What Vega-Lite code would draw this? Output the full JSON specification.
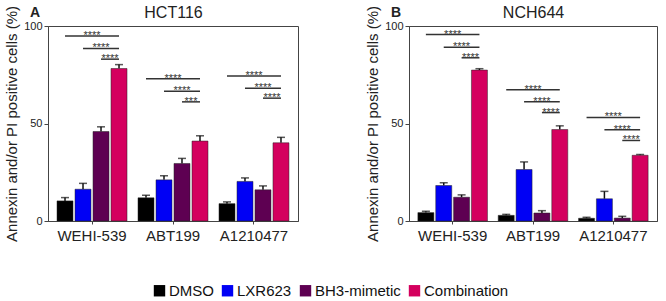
{
  "$schema": "https://vega.github.io/schema/vega-lite/v6.json",
  "background": "white",
  "padding": {"left": 4, "right": 4, "top": 3, "bottom": 4},
  "config": {
    "font": "Liberation Sans",
    "view": {"stroke": "#444", "strokeWidth": 1},
    "axis": {"domainColor": "#444", "tickColor": "#444", "labelColor": "#222", "titleColor": "#222", "grid": false},
    "title": {"font": "Liberation Sans", "color": "#222"},
    "legend": {"layout": {"bottom": {"anchor": "middle"}}},
    "concat": {"spacing": 66}
  },
  "datasets": {
    "bars": [
      {"panel": "HCT116", "group": "WEHI-539", "treatment": "DMSO", "value": 10.3, "upper": 12.0},
      {"panel": "HCT116", "group": "WEHI-539", "treatment": "LXR623", "value": 16.3, "upper": 19.3},
      {"panel": "HCT116", "group": "WEHI-539", "treatment": "BH3-mimetic", "value": 45.9, "upper": 48.3},
      {"panel": "HCT116", "group": "WEHI-539", "treatment": "Combination", "value": 78.2, "upper": 80.2},
      {"panel": "HCT116", "group": "ABT199", "treatment": "DMSO", "value": 11.9, "upper": 13.2},
      {"panel": "HCT116", "group": "ABT199", "treatment": "LXR623", "value": 21.1, "upper": 23.2},
      {"panel": "HCT116", "group": "ABT199", "treatment": "BH3-mimetic", "value": 29.5, "upper": 32.1},
      {"panel": "HCT116", "group": "ABT199", "treatment": "Combination", "value": 41.0, "upper": 43.7},
      {"panel": "HCT116", "group": "A1210477", "treatment": "DMSO", "value": 8.9, "upper": 9.8},
      {"panel": "HCT116", "group": "A1210477", "treatment": "LXR623", "value": 20.3, "upper": 22.1},
      {"panel": "HCT116", "group": "A1210477", "treatment": "BH3-mimetic", "value": 16.0, "upper": 18.0},
      {"panel": "HCT116", "group": "A1210477", "treatment": "Combination", "value": 40.1, "upper": 42.9},
      {"panel": "NCH644", "group": "WEHI-539", "treatment": "DMSO", "value": 4.3, "upper": 5.0},
      {"panel": "NCH644", "group": "WEHI-539", "treatment": "LXR623", "value": 18.2, "upper": 19.6},
      {"panel": "NCH644", "group": "WEHI-539", "treatment": "BH3-mimetic", "value": 12.2, "upper": 13.4},
      {"panel": "NCH644", "group": "WEHI-539", "treatment": "Combination", "value": 77.4, "upper": 78.1},
      {"panel": "NCH644", "group": "ABT199", "treatment": "DMSO", "value": 2.9, "upper": 3.4},
      {"panel": "NCH644", "group": "ABT199", "treatment": "LXR623", "value": 26.4, "upper": 30.3},
      {"panel": "NCH644", "group": "ABT199", "treatment": "BH3-mimetic", "value": 4.1, "upper": 5.3},
      {"panel": "NCH644", "group": "ABT199", "treatment": "Combination", "value": 46.9, "upper": 48.8},
      {"panel": "NCH644", "group": "A1210477", "treatment": "DMSO", "value": 1.4, "upper": 1.9},
      {"panel": "NCH644", "group": "A1210477", "treatment": "LXR623", "value": 11.4, "upper": 15.2},
      {"panel": "NCH644", "group": "A1210477", "treatment": "BH3-mimetic", "value": 1.5, "upper": 2.4},
      {"panel": "NCH644", "group": "A1210477", "treatment": "Combination", "value": 33.7, "upper": 34.1}
    ],
    "sigLines": [
      {"panel": "HCT116", "group": "WEHI-539", "comp": 1, "pos": "DMSO", "level": 94.9},
      {"panel": "HCT116", "group": "WEHI-539", "comp": 1, "pos": "Combination", "level": 94.9},
      {"panel": "HCT116", "group": "WEHI-539", "comp": 2, "pos": "LXR623", "level": 88.5},
      {"panel": "HCT116", "group": "WEHI-539", "comp": 2, "pos": "Combination", "level": 88.5},
      {"panel": "HCT116", "group": "WEHI-539", "comp": 3, "pos": "BH3-mimetic", "level": 83.0},
      {"panel": "HCT116", "group": "WEHI-539", "comp": 3, "pos": "Combination", "level": 83.0},
      {"panel": "HCT116", "group": "ABT199", "comp": 1, "pos": "DMSO", "level": 72.9},
      {"panel": "HCT116", "group": "ABT199", "comp": 1, "pos": "Combination", "level": 72.9},
      {"panel": "HCT116", "group": "ABT199", "comp": 2, "pos": "LXR623", "level": 66.6},
      {"panel": "HCT116", "group": "ABT199", "comp": 2, "pos": "Combination", "level": 66.6},
      {"panel": "HCT116", "group": "ABT199", "comp": 3, "pos": "BH3-mimetic", "level": 61.1},
      {"panel": "HCT116", "group": "ABT199", "comp": 3, "pos": "Combination", "level": 61.1},
      {"panel": "HCT116", "group": "A1210477", "comp": 1, "pos": "DMSO", "level": 74.4},
      {"panel": "HCT116", "group": "A1210477", "comp": 1, "pos": "Combination", "level": 74.4},
      {"panel": "HCT116", "group": "A1210477", "comp": 2, "pos": "LXR623", "level": 68.1},
      {"panel": "HCT116", "group": "A1210477", "comp": 2, "pos": "Combination", "level": 68.1},
      {"panel": "HCT116", "group": "A1210477", "comp": 3, "pos": "BH3-mimetic", "level": 63.0},
      {"panel": "HCT116", "group": "A1210477", "comp": 3, "pos": "Combination", "level": 63.0},
      {"panel": "NCH644", "group": "WEHI-539", "comp": 1, "pos": "DMSO", "level": 95.6},
      {"panel": "NCH644", "group": "WEHI-539", "comp": 1, "pos": "Combination", "level": 95.6},
      {"panel": "NCH644", "group": "WEHI-539", "comp": 2, "pos": "LXR623", "level": 89.1},
      {"panel": "NCH644", "group": "WEHI-539", "comp": 2, "pos": "Combination", "level": 89.1},
      {"panel": "NCH644", "group": "WEHI-539", "comp": 3, "pos": "BH3-mimetic", "level": 83.7},
      {"panel": "NCH644", "group": "WEHI-539", "comp": 3, "pos": "Combination", "level": 83.7},
      {"panel": "NCH644", "group": "ABT199", "comp": 1, "pos": "DMSO", "level": 67.3},
      {"panel": "NCH644", "group": "ABT199", "comp": 1, "pos": "Combination", "level": 67.3},
      {"panel": "NCH644", "group": "ABT199", "comp": 2, "pos": "LXR623", "level": 61.2},
      {"panel": "NCH644", "group": "ABT199", "comp": 2, "pos": "Combination", "level": 61.2},
      {"panel": "NCH644", "group": "ABT199", "comp": 3, "pos": "BH3-mimetic", "level": 55.6},
      {"panel": "NCH644", "group": "ABT199", "comp": 3, "pos": "Combination", "level": 55.6},
      {"panel": "NCH644", "group": "A1210477", "comp": 1, "pos": "DMSO", "level": 53.1},
      {"panel": "NCH644", "group": "A1210477", "comp": 1, "pos": "Combination", "level": 53.1},
      {"panel": "NCH644", "group": "A1210477", "comp": 2, "pos": "LXR623", "level": 46.8},
      {"panel": "NCH644", "group": "A1210477", "comp": 2, "pos": "Combination", "level": 46.8},
      {"panel": "NCH644", "group": "A1210477", "comp": 3, "pos": "BH3-mimetic", "level": 41.3},
      {"panel": "NCH644", "group": "A1210477", "comp": 3, "pos": "Combination", "level": 41.3}
    ],
    "sigLabels": [
      {"panel": "HCT116", "group": "WEHI-539", "pos": "LXR623|BH3-mimetic", "level": 94.9, "label": "****"},
      {"panel": "HCT116", "group": "WEHI-539", "pos": "BH3-mimetic", "level": 88.5, "label": "****"},
      {"panel": "HCT116", "group": "WEHI-539", "pos": "BH3-mimetic|Combination", "level": 83.0, "label": "****"},
      {"panel": "HCT116", "group": "ABT199", "pos": "LXR623|BH3-mimetic", "level": 72.9, "label": "****"},
      {"panel": "HCT116", "group": "ABT199", "pos": "BH3-mimetic", "level": 66.6, "label": "****"},
      {"panel": "HCT116", "group": "ABT199", "pos": "BH3-mimetic|Combination", "level": 61.1, "label": "***"},
      {"panel": "HCT116", "group": "A1210477", "pos": "LXR623|BH3-mimetic", "level": 74.4, "label": "****"},
      {"panel": "HCT116", "group": "A1210477", "pos": "BH3-mimetic", "level": 68.1, "label": "****"},
      {"panel": "HCT116", "group": "A1210477", "pos": "BH3-mimetic|Combination", "level": 63.0, "label": "****"},
      {"panel": "NCH644", "group": "WEHI-539", "pos": "LXR623|BH3-mimetic", "level": 95.6, "label": "****"},
      {"panel": "NCH644", "group": "WEHI-539", "pos": "BH3-mimetic", "level": 89.1, "label": "****"},
      {"panel": "NCH644", "group": "WEHI-539", "pos": "BH3-mimetic|Combination", "level": 83.7, "label": "****"},
      {"panel": "NCH644", "group": "ABT199", "pos": "LXR623|BH3-mimetic", "level": 67.3, "label": "****"},
      {"panel": "NCH644", "group": "ABT199", "pos": "BH3-mimetic", "level": 61.2, "label": "****"},
      {"panel": "NCH644", "group": "ABT199", "pos": "BH3-mimetic|Combination", "level": 55.6, "label": "****"},
      {"panel": "NCH644", "group": "A1210477", "pos": "LXR623|BH3-mimetic", "level": 53.1, "label": "****"},
      {"panel": "NCH644", "group": "A1210477", "pos": "BH3-mimetic", "level": 46.8, "label": "****"},
      {"panel": "NCH644", "group": "A1210477", "pos": "BH3-mimetic|Combination", "level": 41.3, "label": "****"}
    ]
  },
  "hconcat": [
    {
      "title": {"text": "A", "anchor": "start", "frame": "group", "fontSize": 14, "fontWeight": "bold", "dx": -18, "offset": -16},
      "width": 250,
      "height": 195,
      "encoding": {
        "x": {"field": "group", "type": "nominal", "sort": ["WEHI-539", "ABT199", "A1210477"],
              "scale": {"paddingInner": 0.111, "paddingOuter": 0.099},
              "axis": {"title": null, "labelAngle": 0, "labelFontSize": 15, "tickSize": 3, "labelPadding": 4}},
        "y": {"type": "quantitative", "scale": {"domain": [0, 100], "nice": false},
              "axis": {"title": "Annexin and/or PI positive cells (%)", "titleFontSize": 15, "titleFontWeight": "normal", "titlePadding": 4, "labelFontSize": 11, "tickSize": 4, "values": [0, 50, 100], "labelPadding": 2}}
      },
      "layer": [
        {
          "data": {"name": "bars"},
          "transform": [{"filter": "datum.panel === 'HCT116'"}],
          "encoding": {
            "xOffset": {"field": "treatment", "type": "nominal", "scale": {"domain": ["DMSO", "LXR623", "BH3-mimetic", "Combination"], "paddingInner": 0, "paddingOuter": 0}}
          },
          "layer": [
            {"mark": {"type": "rule", "color": "#111", "strokeWidth": 1.5},
             "encoding": {"y": {"field": "value", "type": "quantitative"}, "y2": {"field": "upper"}}},
            {"mark": {"type": "tick", "color": "#111", "thickness": 1.5, "size": 8, "orient": "horizontal"},
             "encoding": {"y": {"field": "upper", "type": "quantitative"}}},
            {"mark": {"type": "bar", "width": 16, "stroke": "#222", "strokeWidth": 0.5},
             "encoding": {
               "y": {"field": "value", "type": "quantitative"},
               "color": {"field": "treatment", "type": "nominal",
                 "scale": {"domain": ["DMSO", "LXR623", "BH3-mimetic", "Combination"], "range": ["#000000", "#0000f5", "#5e0052", "#d4005e"]},
                 "legend": {"title": null, "orient": "bottom", "direction": "horizontal", "symbolType": "square", "symbolSize": 130, "labelFontSize": 15, "labelColor": "#111", "symbolStrokeWidth": 0, "columnPadding": 6, "labelOffset": 2, "offset": 39}}
             }}
          ]
        },
        {
          "encoding": {
            "x": {"field": "group", "type": "nominal", "sort": ["WEHI-539", "ABT199", "A1210477"],
                  "axis": {"orient": "top", "title": "HCT116", "titleFontSize": 16, "titleFontWeight": "normal", "titlePadding": 6, "labels": false, "ticks": false, "domain": false}},
            "xOffset": {"field": "pos", "type": "nominal", "scale": {"type": "point", "domain": ["DMSO", "DMSO|LXR623", "LXR623", "LXR623|BH3-mimetic", "BH3-mimetic", "BH3-mimetic|Combination", "Combination"], "padding": 1}},
            "y": {"field": "level", "type": "quantitative"}
          },
          "layer": [
            {"data": {"name": "sigLines"}, "transform": [{"filter": "datum.panel === 'HCT116'"}],
             "mark": {"type": "line", "color": "#333", "strokeWidth": 1.5},
             "encoding": {"detail": [{"field": "group"}, {"field": "comp"}]}},
            {"data": {"name": "sigLabels"}, "transform": [{"filter": "datum.panel === 'HCT116'"}],
             "mark": {"type": "text", "fontSize": 11, "color": "#333", "baseline": "alphabetic", "dy": 3},
             "encoding": {"text": {"field": "label"}}}
          ]
        }
      ],
      "resolve": {"scale": {"xOffset": "independent"}, "axis": {"x": "independent"}}
    },
    {
      "title": {"text": "B", "anchor": "start", "frame": "group", "fontSize": 14, "fontWeight": "bold", "dx": -18, "offset": -16},
      "width": 248,
      "height": 195,
      "encoding": {
        "x": {"field": "group", "type": "nominal", "sort": ["WEHI-539", "ABT199", "A1210477"],
              "scale": {"paddingInner": 0.111, "paddingOuter": 0.099},
              "axis": {"title": null, "labelAngle": 0, "labelFontSize": 15, "tickSize": 3, "labelPadding": 4}},
        "y": {"type": "quantitative", "scale": {"domain": [0, 100], "nice": false},
              "axis": {"title": "Annexin and/or PI positive cells (%)", "titleFontSize": 15, "titleFontWeight": "normal", "titlePadding": 4, "labelFontSize": 11, "tickSize": 4, "values": [0, 50, 100], "labelPadding": 2}}
      },
      "layer": [
        {
          "data": {"name": "bars"},
          "transform": [{"filter": "datum.panel === 'NCH644'"}],
          "encoding": {
            "xOffset": {"field": "treatment", "type": "nominal", "scale": {"domain": ["DMSO", "LXR623", "BH3-mimetic", "Combination"], "paddingInner": 0, "paddingOuter": 0}}
          },
          "layer": [
            {"mark": {"type": "rule", "color": "#111", "strokeWidth": 1.5},
             "encoding": {"y": {"field": "value", "type": "quantitative"}, "y2": {"field": "upper"}}},
            {"mark": {"type": "tick", "color": "#111", "thickness": 1.5, "size": 8, "orient": "horizontal"},
             "encoding": {"y": {"field": "upper", "type": "quantitative"}}},
            {"mark": {"type": "bar", "width": 16, "stroke": "#222", "strokeWidth": 0.5},
             "encoding": {
               "y": {"field": "value", "type": "quantitative"},
               "color": {"field": "treatment", "type": "nominal",
                 "scale": {"domain": ["DMSO", "LXR623", "BH3-mimetic", "Combination"], "range": ["#000000", "#0000f5", "#5e0052", "#d4005e"]},
                 "legend": {"title": null, "orient": "bottom", "direction": "horizontal", "symbolType": "square", "symbolSize": 130, "labelFontSize": 15, "labelColor": "#111", "symbolStrokeWidth": 0, "columnPadding": 6, "labelOffset": 2, "offset": 39}}
             }}
          ]
        },
        {
          "encoding": {
            "x": {"field": "group", "type": "nominal", "sort": ["WEHI-539", "ABT199", "A1210477"],
                  "axis": {"orient": "top", "title": "NCH644", "titleFontSize": 16, "titleFontWeight": "normal", "titlePadding": 6, "labels": false, "ticks": false, "domain": false}},
            "xOffset": {"field": "pos", "type": "nominal", "scale": {"type": "point", "domain": ["DMSO", "DMSO|LXR623", "LXR623", "LXR623|BH3-mimetic", "BH3-mimetic", "BH3-mimetic|Combination", "Combination"], "padding": 1}},
            "y": {"field": "level", "type": "quantitative"}
          },
          "layer": [
            {"data": {"name": "sigLines"}, "transform": [{"filter": "datum.panel === 'NCH644'"}],
             "mark": {"type": "line", "color": "#333", "strokeWidth": 1.5},
             "encoding": {"detail": [{"field": "group"}, {"field": "comp"}]}},
            {"data": {"name": "sigLabels"}, "transform": [{"filter": "datum.panel === 'NCH644'"}],
             "mark": {"type": "text", "fontSize": 11, "color": "#333", "baseline": "alphabetic", "dy": 3},
             "encoding": {"text": {"field": "label"}}}
          ]
        }
      ],
      "resolve": {"scale": {"xOffset": "independent"}, "axis": {"x": "independent"}}
    }
  ]
}
